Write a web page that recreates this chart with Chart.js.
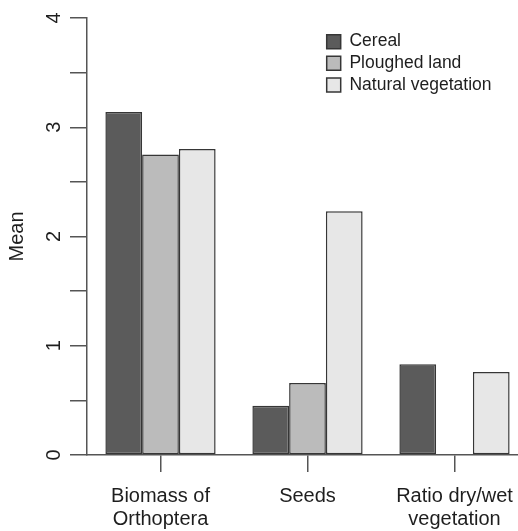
<!DOCTYPE html>
<html>
<head>
<meta charset="utf-8">
<script src="https://cdn.jsdelivr.net/npm/chart.js@4/dist/chart.umd.min.js"></script>
<style>
  html, body { margin: 0; padding: 0; background: #ffffff; overflow: hidden; width: 518px; height: 531px; }
  #wrap { position: absolute; left: 0; top: 0; width: 540px; height: 531px; }
  #c { position: absolute; left: 0; top: 0; }
</style>
</head>
<body>
<div id="wrap"><canvas id="c" width="540" height="531"></canvas></div>
<script>
// ---- data ----
const categories = [['Biomass of', 'Orthoptera'], 'Seeds', ['Ratio dry/wet', 'vegetation']];
const seriesNames = ['Cereal', 'Ploughed land', 'Natural vegetation'];
const cereal = [3.14, 0.45, 0.83];
const ploughed = [2.75, 0.66, null];
const natural = [2.80, 2.23, 0.76];
const yTicks = [0, 1, 2, 3, 4];
const yTitle = 'Mean';

// ---- styles ----
const fills = ['#5b5b5b', '#bbbbbb', '#e7e7e7'];
const edge = '#363636';
const axisColor = '#555555';
const textColor = '#1e1e1e';
const fam = '"Liberation Sans", Arial, Helvetica, sans-serif';

const legendPlacer = {
  id: 'legendPlacer',
  afterLayout(chart) {
    const lg = chart.legend;
    if (!lg) return;
    const w = lg.width, h = lg.height;
    lg.left = 322.5; lg.top = 28.7;
    lg.right = lg.left + w; lg.bottom = lg.top + h;
  }
};

const ctx = document.getElementById('c').getContext('2d');
new Chart(ctx, {
  type: 'bar',
  data: {
    labels: categories,
    datasets: [cereal, ploughed, natural].map((d, i) => ({
      label: seriesNames[i],
      data: d,
      backgroundColor: fills[i],
      borderColor: edge,
      borderWidth: 1.5,
      borderSkipped: false,
      categoryPercentage: 0.75,
      barPercentage: 1.0
    }))
  },
  options: {
    responsive: false,
    animation: false,
    devicePixelRatio: 1,
    events: [],
    layout: { padding: { left: 1, top: 18, right: 12, bottom: 0 } },
    plugins: {
      tooltip: { enabled: false },
      title: { display: false },
      legend: {
        position: 'chartArea',
        align: 'start',
        labels: {
          boxWidth: 14,
          boxHeight: 14,
          padding: 4.2,
          color: textColor,
          font: { family: fam, size: 17.5 }
        }
      }
    },
    scales: {
      x: {
        offset: true,
        afterFit(s) { s.height = 76; s.paddingLeft = 0; s.paddingRight = 0; },
        grid: { display: true, offset: false, drawOnChartArea: false, drawTicks: true, tickLength: 17, color: axisColor, lineWidth: 1.5 },
        border: { display: true, color: axisColor, width: 1.5 },
        ticks: { color: textColor, padding: 13, maxRotation: 0, minRotation: 0, autoSkip: false, font: { family: fam, size: 20, lineHeight: 1.15 } }
      },
      y: {
        min: 0,
        max: 4,
        afterFit(s) { s.width = 86; s.paddingTop = 0; s.paddingBottom = 0; },
        grid: { display: true, drawOnChartArea: false, drawTicks: true, tickLength: 17, color: axisColor, lineWidth: 1.5 },
        border: { display: true, color: axisColor, width: 1.5 },
        ticks: {
          stepSize: 0.5,
          minRotation: 90,
          maxRotation: 90,
          crossAlign: 'center',
          padding: 10,
          color: textColor,
          font: { family: fam, size: 20 },
          callback: (v) => (yTicks.includes(v) ? String(v) : '')
        },
        title: { display: true, text: yTitle, color: textColor, padding: { top: 4, bottom: 4 }, font: { family: fam, size: 20 } }
      }
    }
  },
  plugins: [legendPlacer]
});
</script>
</body>
</html>
